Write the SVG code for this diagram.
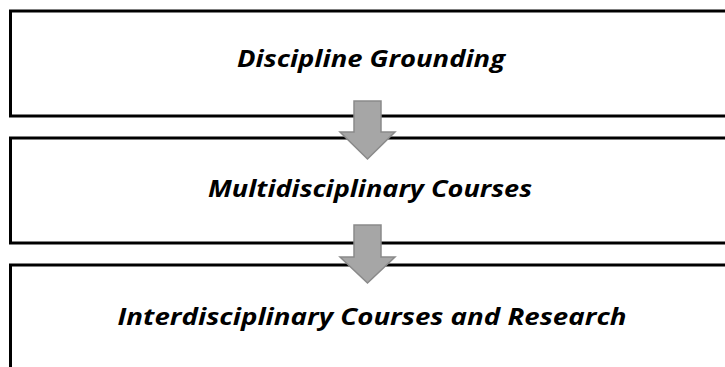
<svg xmlns="http://www.w3.org/2000/svg" width="725" height="367" viewBox="0 0 725 367">
<style>
.box{fill:#fff;stroke:#000;stroke-width:3}
.lbl{font-family:"Open Sans","Liberation Sans",sans-serif;font-weight:bold;font-style:italic;font-size:23px;fill:#000}
.arr{fill:#a6a6a6;stroke:#8a8a8a;stroke-width:1.5;stroke-linejoin:miter}
</style>
<rect width="725" height="367" fill="#fff"/>
<g id="node1">
<rect class="box" x="10.5" y="11" width="730" height="105"/>
<text class="lbl" x="371" y="67" text-anchor="middle" textLength="268" lengthAdjust="spacingAndGlyphs">Discipline Grounding</text>
</g>
<g id="node2">
<rect class="box" x="10.5" y="138" width="730" height="105"/>
<text class="lbl" x="370" y="197" text-anchor="middle" textLength="324" lengthAdjust="spacingAndGlyphs">Multidisciplinary Courses</text>
</g>
<g id="node3">
<rect class="box" x="10.5" y="265" width="730" height="120"/>
<text class="lbl" x="372" y="325" text-anchor="middle" textLength="509" lengthAdjust="spacingAndGlyphs">Interdisciplinary Courses and Research</text>
</g>
<g id="connectors">
<polygon class="arr" points="354,101 381,101 381,132 395,132 367.5,159 340,132 354,132"/>
<polygon class="arr" points="354,225 381,225 381,257 395,257 367.5,283 340,257 354,257"/>
</g>
</svg>
